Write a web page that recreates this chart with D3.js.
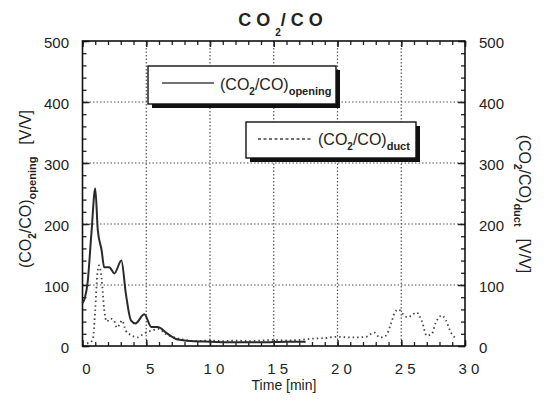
<!DOCTYPE html>
<html><head><meta charset="utf-8">
<script src="https://cdn.jsdelivr.net/npm/d3@7"></script>
<style>
body{margin:0;background:#fff;}
svg text{font-family:"Liberation Sans",Arial,Helvetica,sans-serif;fill:#222;}
</style></head>
<body><svg id="c" width="548" height="402"></svg>
<script>
const timeOpening = [0, 0.2, 0.4, 0.7, 1.0, 1.2, 1.5, 1.7, 2.1, 2.5, 3.05, 3.4, 3.8, 4.15, 4.85, 5.4, 5.9, 6.6, 7.4, 8.5, 10, 12, 14, 16, 17.5];
const opening = [70, 80, 104, 185, 258, 190, 157, 129, 129, 119, 140, 86, 42, 37, 52, 31, 31, 21, 11, 8, 7, 6, 6, 7, 7];
const timeDuct = [0, 0.5, 0.8, 1.0, 1.15, 1.3, 1.5, 1.7, 1.9, 2.2, 2.5, 2.7, 2.9, 3.1, 3.4, 3.8, 4.3, 4.8, 5.5, 6.0, 6.5, 7.2, 8, 9, 10, 11, 12, 13, 14, 15, 16, 17, 18, 19, 19.9, 21.1, 22.2, 22.9, 23.3, 23.8, 24.2, 24.5, 24.8, 25.1, 25.5, 25.8, 26.2, 26.6, 27.0, 27.4, 27.7, 28.2, 28.5, 28.9, 29.3];
const duct = [4, 5, 10, 60, 115, 132, 110, 60, 40, 45, 40, 30, 35, 42, 25, 18, 14, 20, 26, 28, 20, 14, 10, 8, 9, 8, 9, 8, 9, 10, 9, 10, 12, 13, 15, 14, 15, 22, 14, 17, 37, 55, 60, 53, 47, 50, 55, 42, 17, 20, 38, 50, 42, 22, 12];
const xTicks = [0, 5, 10, 15, 20, 25, 30];
const xTickLabels = ["0", "5", "1 0", "1 5", "2 0", "2 5", "3 0"];
const yTicks = [0, 100, 200, 300, 400, 500];

const svg = d3.select("#c");
const L = 82.5, R = 465, T = 41, B = 346;
const x = d3.scaleLinear().domain([0, 30]).range([L, R]);
const y = d3.scaleLinear().domain([0, 500]).range([B, T]);

// grid
const grid = svg.append("g").attr("stroke", "#555").attr("stroke-width", 1.2).attr("stroke-dasharray", "1.5,2");
grid.selectAll(".gx").data(xTicks.filter(d => d > 0 && d < 30)).join("line")
  .attr("x1", d => x(d)).attr("x2", d => x(d)).attr("y1", T).attr("y2", B);
grid.selectAll(".gy").data(yTicks.filter(d => d > 0 && d < 500)).join("line")
  .attr("y1", d => y(d)).attr("y2", d => y(d)).attr("x1", L).attr("x2", R);

// minor/major ticks via axes
function tickAxis(axisGen, tr, major, minorVals, majorLen, minorLen) {
  const g1 = svg.append("g").attr("transform", tr).call(axisGen.tickValues(minorVals).tickSize(minorLen).tickFormat(""));
  g1.select(".domain").remove();
  g1.selectAll("line").attr("stroke", "#222").attr("stroke-width", 1.3);
  const g2 = svg.append("g").attr("transform", tr).call(axisGen.tickValues(major).tickSize(majorLen).tickFormat(""));
  g2.select(".domain").remove();
  g2.selectAll("line").attr("stroke", "#222").attr("stroke-width", 1.5);
}
const xMinor = d3.range(0, 31, 1);
const yMinor = d3.range(0, 501, 20);
tickAxis(d3.axisTop(x), `translate(0,${B})`, xTicks, xMinor, 6, 4);
tickAxis(d3.axisBottom(x), `translate(0,${T})`, xTicks, xMinor, 6, 4);
tickAxis(d3.axisRight(y), `translate(${L},0)`, yTicks, yMinor, 7, 4);
tickAxis(d3.axisLeft(y), `translate(${R},0)`, yTicks, yMinor, 7, 4);

// frame
svg.append("rect").attr("x", L).attr("y", T).attr("width", R - L).attr("height", B - T)
  .attr("fill", "none").attr("stroke", "#111").attr("stroke-width", 1.6);

// tick labels
svg.selectAll(".xl").data(xTicks).join("text")
  .attr("x", d => x(d) + 4).attr("y", 374).attr("text-anchor", "middle")
  .attr("font-size", 15).text((d, i) => xTickLabels[i]);
svg.selectAll(".yl").data(yTicks).join("text")
  .attr("x", 69).attr("y", d => y(d) + 7).attr("text-anchor", "end")
  .attr("font-size", 15).text(d => d);
svg.selectAll(".yr").data(yTicks).join("text")
  .attr("x", 479).attr("y", d => y(d) + 7).attr("text-anchor", "start")
  .attr("font-size", 15).text(d => d);

// lines
const lineO = d3.line().x((d, i) => x(timeOpening[i])).y(d => y(d)).curve(d3.curveMonotoneX);
const lineD = d3.line().x((d, i) => x(timeDuct[i])).y(d => y(d)).curve(d3.curveMonotoneX);
svg.append("path").attr("d", lineD(duct)).attr("fill", "none").attr("stroke", "#444")
  .attr("stroke-width", 1.8).attr("stroke-dasharray", "1.5,3");
svg.append("path").attr("d", lineO(opening)).attr("fill", "none").attr("stroke", "#2a2a2a").attr("stroke-width", 2);

// legends
function legend(bx, by, bw, bh, lx1, lx2, ly, tx, ty, sub, dashed) {
  svg.append("rect").attr("x", bx + 4).attr("y", by + 4).attr("width", bw).attr("height", bh).attr("fill", "#111");
  svg.append("rect").attr("x", bx).attr("y", by).attr("width", bw).attr("height", bh)
    .attr("fill", "#fff").attr("stroke", "#111").attr("stroke-width", 1.4);
  const ln = svg.append("line").attr("x1", lx1).attr("x2", lx2).attr("y1", ly).attr("y2", ly)
    .attr("stroke", "#444").attr("stroke-width", 1.5);
  if (dashed) ln.attr("stroke-dasharray", "3,2.5");
  const t = svg.append("text").attr("x", tx).attr("y", ty).attr("font-size", 16);
  t.append("tspan").text("(CO");
  t.append("tspan").attr("font-size", 10).attr("font-weight", "bold").attr("dy", 5).text("2");
  t.append("tspan").attr("dy", -5).text("/CO)");
  t.append("tspan").attr("font-size", 11).attr("font-weight", "bold").attr("dy", 5).text(sub);
}
legend(148, 66, 188, 38, 162, 214, 83, 220, 90, "opening", false);
legend(246, 122, 170, 36, 258, 313, 139, 318, 145, "duct", true);

// title
const tt = svg.append("text").attr("x", 283).attr("y", 26).attr("text-anchor", "middle")
  .attr("font-size", 18).attr("font-weight", "bold").attr("letter-spacing", 5);
tt.append("tspan").text("CO");
tt.append("tspan").attr("font-size", 10).attr("dy", 10).attr("letter-spacing", 0).text("2");
tt.append("tspan").attr("dy", -10).text("/CO");

// axis titles
svg.append("text").attr("x", 284).attr("y", 390).attr("text-anchor", "middle").attr("font-size", 14).text("Time [min]");

const yl = svg.append("text").attr("transform", "translate(31,189) rotate(-90)").attr("text-anchor", "middle").attr("font-size", 16);
yl.append("tspan").text("(CO");
yl.append("tspan").attr("font-size", 10).attr("font-weight", "bold").attr("dy", 5).text("2");
yl.append("tspan").attr("dy", -5).text("/CO)");
yl.append("tspan").attr("font-size", 11).attr("font-weight", "bold").attr("dy", 5).text("opening");
yl.append("tspan").attr("dy", -5).attr("dx", 12).text("[V/V]");

const yr = svg.append("text").attr("transform", "translate(519,204) rotate(90)").attr("text-anchor", "middle").attr("font-size", 16);
yr.append("tspan").text("(CO");
yr.append("tspan").attr("font-size", 10).attr("font-weight", "bold").attr("dy", 5).text("2");
yr.append("tspan").attr("dy", -5).text("/CO)");
yr.append("tspan").attr("font-size", 11).attr("font-weight", "bold").attr("dy", 5).text("duct");
yr.append("tspan").attr("dy", -5).attr("dx", 12).text("[V/V]");
</script></body></html>
